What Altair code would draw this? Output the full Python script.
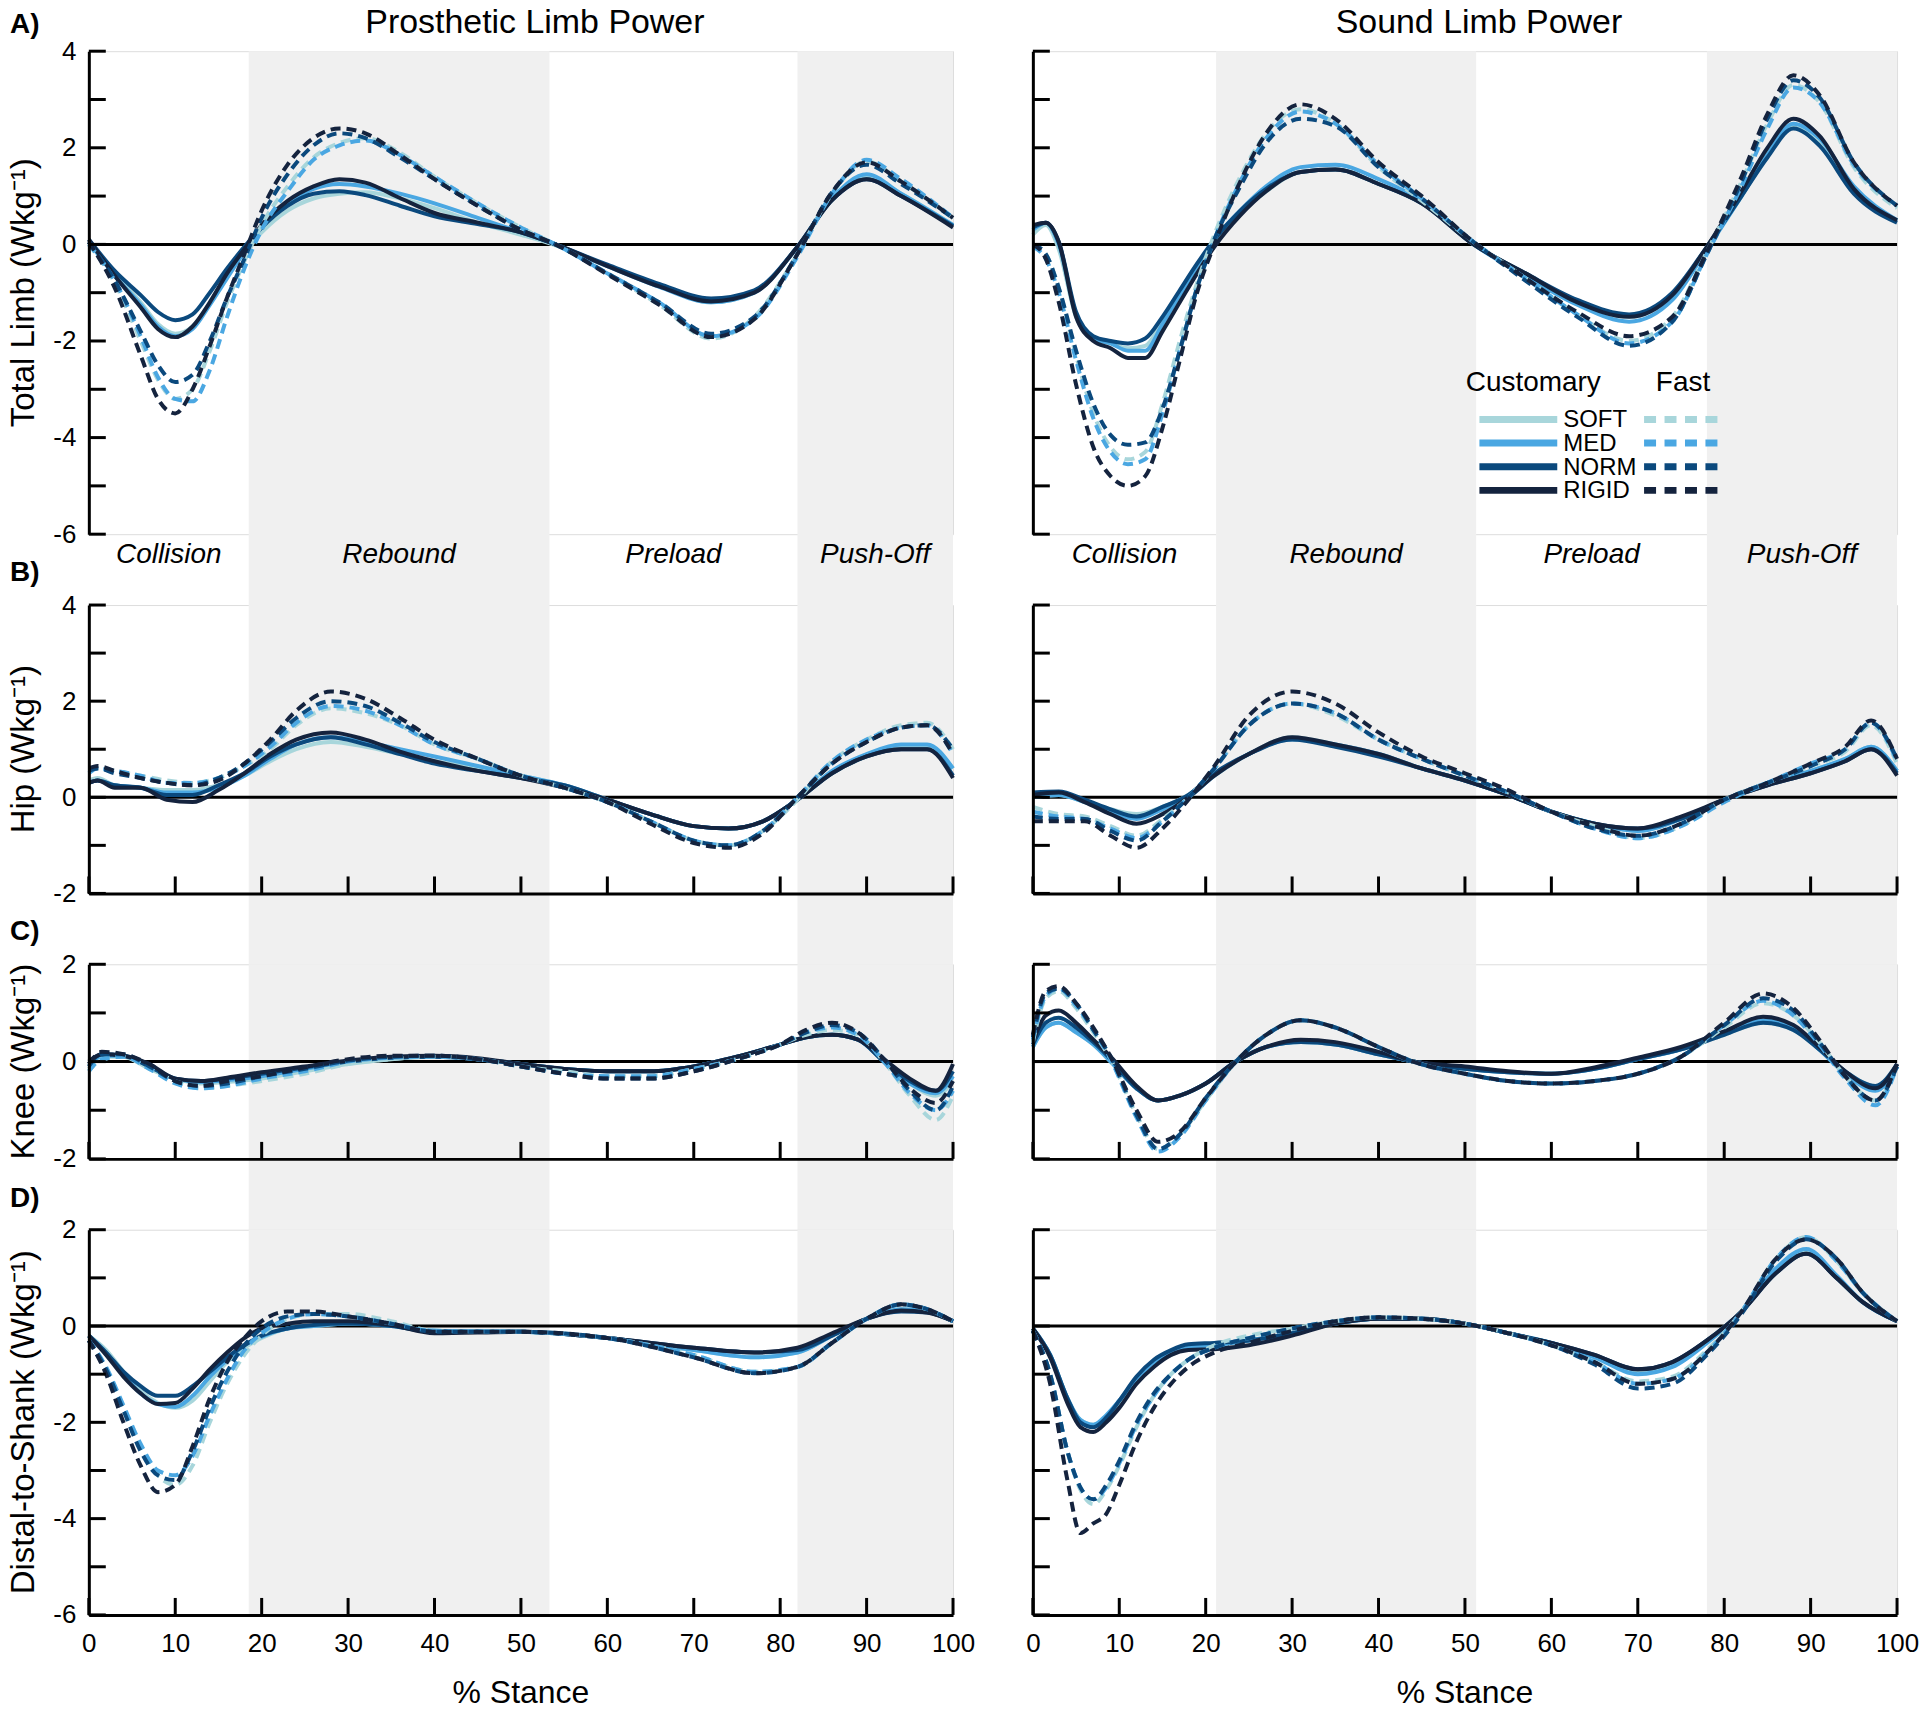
import altair as alt
import pandas as pd

FONT = "Liberation Sans, Arial, Helvetica, sans-serif"
STIFF = ["SOFT", "MED", "NORM", "RIGID"]
COLORS = ["#a8d6db", "#4aa7e2", "#0b497d", "#14233e"]
PHASE_NAMES = ["Collision", "Rebound", "Preload", "Push-Off"]
PHASES_PROS = [0, 18.5, 53.3, 82.0, 100]
PHASES_SOUND = [0, 21.2, 51.3, 78.0, 100]
X_TICKS = [0, 10, 20, 30, 40, 50, 60, 70, 80, 90, 100]

# ---------------- A) Total limb, prosthetic ----------------
AL_X = [0, 3, 6, 8, 10, 12, 14, 16, 18, 20, 23, 26, 29, 32, 36, 40, 45, 50, 54, 60, 66, 72, 77, 82, 86, 90, 94, 100]
AL_CUST = [
    [0.05, -0.6, -1.2, -1.65, -1.85, -1.7, -1.2, -0.65, -0.15, 0.25, 0.7, 0.95, 1.05, 1.08, 0.95, 0.75, 0.45, 0.2, -0.02, -0.45, -0.85, -1.2, -1.0, -0.05, 0.92, 1.4, 1.05, 0.4],
    [0.05, -0.65, -1.25, -1.7, -1.9, -1.75, -1.25, -0.7, -0.15, 0.35, 0.85, 1.15, 1.25, 1.2, 1.05, 0.85, 0.55, 0.25, 0.0, -0.45, -0.88, -1.2, -1.0, -0.05, 0.95, 1.45, 1.05, 0.4],
    [0.1, -0.55, -1.05, -1.4, -1.57, -1.45, -1.0, -0.5, -0.05, 0.35, 0.8, 1.05, 1.1, 1.02, 0.8, 0.58, 0.42, 0.25, 0.0, -0.42, -0.82, -1.12, -0.95, -0.05, 0.92, 1.35, 1.0, 0.38],
    [0.1, -0.65, -1.3, -1.75, -1.92, -1.7, -1.2, -0.6, -0.1, 0.4, 0.9, 1.2, 1.35, 1.28, 0.96, 0.65, 0.45, 0.25, 0.0, -0.45, -0.87, -1.18, -1.0, -0.05, 0.92, 1.35, 1.0, 0.35],
]
AL_FAST = [
    [0.0, -0.8, -2.0, -2.8, -3.2, -3.0, -2.2, -1.2, -0.35, 0.4, 1.2, 1.8, 2.1, 2.2, 1.9, 1.4, 0.85, 0.35, 0.0, -0.6, -1.25, -1.95, -1.5, -0.2, 1.05, 1.72, 1.3, 0.55],
    [0.0, -0.75, -1.9, -2.75, -3.2, -3.25, -2.6, -1.5, -0.5, 0.3, 1.1, 1.75, 2.05, 2.15, 1.85, 1.4, 0.85, 0.35, 0.0, -0.6, -1.2, -1.9, -1.55, -0.25, 1.05, 1.75, 1.35, 0.55],
    [0.05, -0.75, -1.8, -2.5, -2.85, -2.7, -2.0, -1.1, -0.3, 0.55, 1.45, 2.05, 2.3, 2.2, 1.8, 1.35, 0.8, 0.3, 0.0, -0.6, -1.2, -1.85, -1.5, -0.2, 1.08, 1.65, 1.25, 0.55],
    [0.05, -0.9, -2.3, -3.2, -3.5, -3.0, -2.1, -1.1, -0.2, 0.7, 1.65, 2.2, 2.4, 2.3, 1.85, 1.35, 0.8, 0.3, 0.0, -0.62, -1.25, -1.92, -1.55, -0.2, 1.08, 1.7, 1.3, 0.55],
]

# ---------------- A) Total limb, sound ----------------
AR_X = [0, 1.5, 3, 5, 7, 9, 11, 13, 15, 17, 19, 21, 24, 27, 31, 35, 40, 45, 51, 57, 63, 69, 74, 78, 82, 85, 88, 91, 95, 100]
AR_CUST = [
    [0.2, 0.4, -0.1, -1.5, -1.95, -2.05, -2.15, -2.1, -1.6, -1.0, -0.45, 0.05, 0.65, 1.1, 1.5, 1.55, 1.25, 0.85, 0.0, -0.6, -1.2, -1.5, -1.05, -0.05, 1.0, 1.9, 2.45, 2.1, 1.1, 0.5],
    [0.3, 0.45, 0.0, -1.45, -1.95, -2.05, -2.2, -2.2, -1.65, -1.05, -0.45, 0.1, 0.7, 1.2, 1.6, 1.65, 1.35, 0.9, 0.0, -0.65, -1.25, -1.6, -1.15, -0.1, 1.0, 1.85, 2.5, 2.2, 1.2, 0.5],
    [0.35, 0.45, 0.05, -1.4, -1.9, -2.0, -2.05, -1.95, -1.5, -0.95, -0.4, 0.1, 0.7, 1.15, 1.5, 1.55, 1.25, 0.85, 0.0, -0.6, -1.15, -1.45, -1.0, -0.05, 1.0, 1.8, 2.4, 2.05, 1.05, 0.45],
    [0.4, 0.45, 0.05, -1.5, -2.0, -2.15, -2.35, -2.35, -1.8, -1.2, -0.6, -0.05, 0.6, 1.1, 1.5, 1.55, 1.25, 0.85, 0.0, -0.6, -1.2, -1.5, -1.05, -0.05, 1.1, 2.0, 2.6, 2.25, 1.15, 0.5],
]
AR_FAST = [
    [0.0, -0.2, -0.9, -2.3, -3.5, -4.2, -4.45, -4.3, -3.3, -2.0, -0.8, 0.2, 1.4, 2.3, 2.8, 2.5, 1.6, 0.9, 0.05, -0.7, -1.45, -2.0, -1.5, -0.15, 1.3, 2.5, 3.3, 2.95, 1.6, 0.75],
    [-0.05, -0.3, -1.0, -2.4, -3.6, -4.3, -4.55, -4.45, -3.5, -2.2, -0.9, 0.1, 1.3, 2.2, 2.75, 2.5, 1.65, 0.95, 0.05, -0.7, -1.45, -2.05, -1.6, -0.2, 1.2, 2.4, 3.25, 2.95, 1.65, 0.8],
    [0.0, -0.2, -0.9, -2.2, -3.3, -3.95, -4.15, -4.1, -3.4, -2.2, -0.9, 0.1, 1.2, 2.1, 2.6, 2.45, 1.6, 0.95, 0.05, -0.75, -1.5, -2.1, -1.6, -0.2, 1.3, 2.6, 3.4, 3.05, 1.7, 0.8],
    [0.0, -0.3, -1.2, -2.9, -4.2, -4.8, -5.0, -4.8, -3.8, -2.4, -1.0, 0.0, 1.3, 2.3, 2.9, 2.6, 1.7, 1.0, 0.05, -0.7, -1.4, -1.9, -1.5, -0.15, 1.4, 2.7, 3.5, 3.1, 1.7, 0.8],
]

# ---------------- B) Hip, prosthetic ----------------
BL_X = [0, 1, 3, 6, 9, 12, 15, 18, 21, 24, 28, 32, 36, 40, 45, 50, 55, 60, 65, 70, 74, 78, 82, 86, 90, 94, 97, 100]
BL_CUST = [
    [0.35, 0.4, 0.25, 0.2, 0.15, 0.15, 0.25, 0.45, 0.75, 1.0, 1.15, 1.05, 0.9, 0.75, 0.6, 0.45, 0.25, -0.05, -0.35, -0.6, -0.65, -0.5, -0.05, 0.5, 0.85, 1.05, 1.05, 0.6],
    [0.3, 0.35, 0.25, 0.2, 0.1, 0.1, 0.2, 0.45, 0.8, 1.1, 1.25, 1.15, 1.0, 0.85, 0.65, 0.45, 0.25, -0.05, -0.35, -0.6, -0.65, -0.5, -0.05, 0.55, 0.9, 1.1, 1.1, 0.6],
    [0.3, 0.35, 0.25, 0.2, 0.05, 0.05, 0.25, 0.5, 0.85, 1.1, 1.25, 1.1, 0.9, 0.7, 0.55, 0.4, 0.25, -0.05, -0.35, -0.6, -0.65, -0.5, -0.05, 0.5, 0.85, 1.0, 1.0, 0.45],
    [0.3, 0.35, 0.2, 0.2, -0.05, -0.1, 0.15, 0.5, 0.9, 1.2, 1.35, 1.2, 0.95, 0.75, 0.55, 0.4, 0.2, -0.05, -0.35, -0.6, -0.65, -0.5, -0.05, 0.5, 0.85, 1.0, 1.0, 0.4],
]
BL_FAST = [
    [0.55, 0.6, 0.55, 0.45, 0.35, 0.3, 0.4, 0.65, 1.0, 1.5, 1.85, 1.75, 1.5, 1.1, 0.8, 0.45, 0.2, -0.1, -0.5, -0.9, -1.0, -0.7, -0.05, 0.75, 1.2, 1.5, 1.55, 1.0],
    [0.5, 0.6, 0.55, 0.45, 0.3, 0.3, 0.4, 0.65, 1.05, 1.55, 1.9, 1.8, 1.5, 1.1, 0.8, 0.45, 0.2, -0.1, -0.5, -0.9, -1.0, -0.7, 0.0, 0.75, 1.2, 1.45, 1.5, 0.9],
    [0.55, 0.6, 0.5, 0.4, 0.3, 0.25, 0.4, 0.7, 1.15, 1.65, 2.0, 1.9, 1.55, 1.15, 0.8, 0.45, 0.2, -0.1, -0.5, -0.9, -1.0, -0.7, 0.0, 0.7, 1.15, 1.45, 1.5, 1.0],
    [0.6, 0.65, 0.55, 0.4, 0.3, 0.25, 0.35, 0.7, 1.2, 1.8, 2.2, 2.05, 1.65, 1.2, 0.8, 0.45, 0.2, -0.1, -0.55, -0.95, -1.05, -0.75, 0.0, 0.7, 1.15, 1.45, 1.5, 0.9],
]

# ---------------- B) Hip, sound ----------------
BR_X = [0, 3, 6, 9, 12, 15, 18, 21, 25, 30, 35, 40, 45, 50, 55, 60, 65, 70, 75, 80, 85, 90, 94, 97, 100]
BR_CUST = [
    [0.0, 0.05, -0.1, -0.25, -0.35, -0.2, 0.05, 0.45, 0.9, 1.25, 1.1, 0.9, 0.6, 0.35, 0.05, -0.3, -0.55, -0.7, -0.45, -0.05, 0.3, 0.55, 0.8, 1.05, 0.55],
    [0.0, 0.05, -0.1, -0.3, -0.45, -0.25, 0.0, 0.45, 0.9, 1.2, 1.1, 0.9, 0.6, 0.35, 0.05, -0.3, -0.55, -0.7, -0.45, -0.05, 0.3, 0.55, 0.8, 1.05, 0.55],
    [0.1, 0.12, -0.05, -0.25, -0.4, -0.2, 0.05, 0.5, 0.9, 1.2, 1.05, 0.85, 0.6, 0.35, 0.05, -0.3, -0.55, -0.65, -0.45, -0.05, 0.25, 0.5, 0.75, 1.0, 0.5],
    [0.05, 0.1, -0.1, -0.35, -0.55, -0.35, 0.0, 0.45, 0.9, 1.25, 1.1, 0.9, 0.6, 0.35, 0.05, -0.3, -0.55, -0.65, -0.4, -0.05, 0.25, 0.5, 0.75, 1.0, 0.45],
]
BR_FAST = [
    [-0.2, -0.35, -0.4, -0.6, -0.8, -0.45, 0.0, 0.6, 1.5, 1.95, 1.7, 1.2, 0.8, 0.45, 0.1, -0.3, -0.6, -0.85, -0.6, -0.05, 0.3, 0.65, 0.95, 1.5, 0.7],
    [-0.3, -0.4, -0.45, -0.65, -0.85, -0.5, 0.0, 0.6, 1.5, 1.95, 1.75, 1.2, 0.8, 0.45, 0.1, -0.3, -0.65, -0.85, -0.6, -0.1, 0.3, 0.7, 1.0, 1.55, 0.75],
    [-0.4, -0.45, -0.45, -0.7, -0.9, -0.5, 0.0, 0.6, 1.5, 1.95, 1.75, 1.2, 0.8, 0.45, 0.1, -0.3, -0.65, -0.8, -0.55, -0.05, 0.3, 0.65, 1.0, 1.55, 0.8],
    [-0.5, -0.5, -0.5, -0.8, -1.05, -0.65, -0.05, 0.65, 1.7, 2.2, 1.95, 1.35, 0.85, 0.5, 0.15, -0.3, -0.6, -0.8, -0.55, -0.05, 0.3, 0.7, 1.05, 1.6, 0.8],
]

# ---------------- C) Knee, prosthetic ----------------
CL_X = [0, 1.5, 4, 7, 10, 13, 16, 20, 25, 30, 35, 40, 45, 50, 55, 60, 65, 70, 75, 80, 83, 86, 89, 92, 95, 98, 100]
CL_CUST = [
    [-0.15, 0.1, 0.1, -0.15, -0.35, -0.45, -0.42, -0.35, -0.2, -0.05, 0.05, 0.1, 0.05, -0.05, -0.15, -0.2, -0.2, -0.1, 0.1, 0.35, 0.5, 0.55, 0.45, 0.0, -0.45, -0.7, -0.4],
    [-0.1, 0.12, 0.12, -0.1, -0.35, -0.42, -0.38, -0.3, -0.15, 0.0, 0.08, 0.1, 0.05, -0.05, -0.15, -0.2, -0.2, -0.1, 0.1, 0.35, 0.5, 0.55, 0.45, 0.0, -0.45, -0.65, -0.3],
    [-0.05, 0.15, 0.12, -0.1, -0.35, -0.4, -0.35, -0.25, -0.12, 0.0, 0.08, 0.1, 0.05, -0.05, -0.15, -0.2, -0.2, -0.1, 0.1, 0.35, 0.5, 0.55, 0.45, 0.0, -0.4, -0.6, -0.2],
    [0.0, 0.15, 0.12, -0.05, -0.35, -0.4, -0.33, -0.22, -0.1, 0.02, 0.1, 0.12, 0.07, -0.05, -0.15, -0.2, -0.2, -0.1, 0.1, 0.35, 0.5, 0.55, 0.45, 0.05, -0.35, -0.6, -0.05],
]
CL_FAST = [
    [-0.2, 0.05, 0.1, -0.15, -0.4, -0.55, -0.5, -0.4, -0.25, -0.05, 0.05, 0.1, 0.05, -0.1, -0.2, -0.3, -0.3, -0.15, 0.05, 0.35, 0.55, 0.65, 0.55, 0.0, -0.7, -1.2, -0.7],
    [-0.2, 0.05, 0.1, -0.15, -0.45, -0.55, -0.5, -0.35, -0.2, 0.0, 0.08, 0.1, 0.05, -0.1, -0.25, -0.3, -0.3, -0.15, 0.05, 0.35, 0.6, 0.7, 0.55, 0.0, -0.65, -1.0, -0.6],
    [-0.1, 0.15, 0.15, -0.1, -0.4, -0.5, -0.45, -0.3, -0.15, 0.02, 0.1, 0.12, 0.05, -0.1, -0.25, -0.35, -0.35, -0.2, 0.05, 0.35, 0.6, 0.75, 0.6, 0.05, -0.6, -1.0, -0.5],
    [-0.05, 0.2, 0.15, -0.05, -0.4, -0.5, -0.4, -0.3, -0.12, 0.05, 0.12, 0.12, 0.05, -0.1, -0.25, -0.35, -0.35, -0.2, 0.05, 0.35, 0.65, 0.8, 0.6, 0.05, -0.55, -0.85, -0.4],
]

# ---------------- C) Knee, sound ----------------
CR_X = [0, 1.5, 3, 5, 7, 9, 12, 14.5, 17, 20, 23.5, 27, 31, 35, 40, 44, 50, 55, 60, 65, 70, 75, 80, 84.5, 88, 91, 94, 97.5, 100]
CR_CUST = [
    [0.3, 0.7, 0.8, 0.6, 0.35, 0.0, -0.55, -0.8, -0.7, -0.45, 0.0, 0.3, 0.4, 0.35, 0.15, 0.0, -0.15, -0.22, -0.25, -0.15, 0.05, 0.25, 0.55, 0.8, 0.65, 0.25, -0.2, -0.5, -0.1],
    [0.3, 0.7, 0.8, 0.6, 0.35, 0.0, -0.55, -0.8, -0.7, -0.45, 0.0, 0.3, 0.4, 0.35, 0.15, 0.0, -0.15, -0.22, -0.25, -0.15, 0.05, 0.25, 0.58, 0.85, 0.7, 0.25, -0.25, -0.6, -0.1],
    [0.35, 0.8, 0.9, 0.7, 0.4, 0.05, -0.55, -0.8, -0.7, -0.45, 0.0, 0.3, 0.4, 0.35, 0.15, 0.0, -0.15, -0.22, -0.25, -0.15, 0.05, 0.25, 0.55, 0.8, 0.65, 0.25, -0.2, -0.5, -0.05],
    [0.4, 0.95, 1.05, 0.8, 0.45, 0.1, -0.5, -0.8, -0.7, -0.45, 0.0, 0.3, 0.45, 0.4, 0.2, 0.0, -0.1, -0.2, -0.25, -0.12, 0.08, 0.3, 0.62, 0.92, 0.75, 0.3, -0.2, -0.55, -0.05],
]
CR_FAST = [
    [0.4, 1.3, 1.45, 1.1, 0.6, 0.05, -1.1, -1.8, -1.5, -0.8, 0.0, 0.55, 0.85, 0.7, 0.3, 0.0, -0.25, -0.4, -0.45, -0.4, -0.25, 0.1, 0.7, 1.2, 0.95, 0.4, -0.3, -0.8, -0.1],
    [0.45, 1.35, 1.5, 1.15, 0.65, 0.05, -1.15, -1.85, -1.55, -0.8, 0.0, 0.55, 0.85, 0.7, 0.3, 0.0, -0.25, -0.4, -0.45, -0.4, -0.25, 0.1, 0.75, 1.25, 0.95, 0.35, -0.35, -0.9, -0.1],
    [0.5, 1.4, 1.5, 1.2, 0.65, 0.1, -1.1, -1.8, -1.5, -0.75, 0.0, 0.55, 0.85, 0.7, 0.3, 0.0, -0.25, -0.4, -0.45, -0.4, -0.25, 0.1, 0.75, 1.3, 1.05, 0.4, -0.3, -0.8, -0.1],
    [0.55, 1.45, 1.55, 1.2, 0.7, 0.1, -1.0, -1.65, -1.45, -0.75, 0.0, 0.55, 0.85, 0.7, 0.3, 0.0, -0.25, -0.4, -0.45, -0.4, -0.25, 0.1, 0.8, 1.4, 1.1, 0.45, -0.3, -0.8, -0.05],
]

# ---------------- D) Distal-to-shank, prosthetic ----------------
DL_X = [0, 2, 4, 6, 8, 10, 12, 14, 16, 18, 20, 23, 26, 30, 35, 40, 50, 60, 70, 77, 82, 86, 90, 94, 97, 100]
DL_CUST = [
    [-0.2, -0.5, -0.95, -1.35, -1.6, -1.7, -1.55, -1.15, -0.75, -0.45, -0.25, -0.05, 0.0, 0.05, 0.0, -0.1, -0.12, -0.25, -0.5, -0.65, -0.55, -0.2, 0.15, 0.35, 0.3, 0.1],
    [-0.2, -0.55, -1.0, -1.4, -1.62, -1.68, -1.45, -1.05, -0.7, -0.4, -0.22, -0.05, 0.0, 0.05, 0.0, -0.1, -0.12, -0.25, -0.5, -0.65, -0.55, -0.2, 0.15, 0.35, 0.3, 0.1],
    [-0.2, -0.55, -0.95, -1.25, -1.45, -1.45, -1.25, -0.95, -0.65, -0.4, -0.2, -0.05, 0.02, 0.05, 0.0, -0.12, -0.12, -0.25, -0.45, -0.55, -0.5, -0.2, 0.15, 0.3, 0.28, 0.1],
    [-0.2, -0.6, -1.05, -1.4, -1.62, -1.6, -1.3, -0.9, -0.55, -0.25, -0.05, 0.05, 0.1, 0.1, 0.02, -0.15, -0.12, -0.25, -0.45, -0.55, -0.45, -0.15, 0.15, 0.32, 0.28, 0.1],
]
DL_FAST = [
    [-0.3, -0.9, -1.7, -2.5, -3.1, -3.3, -2.9, -2.0, -1.2, -0.6, -0.2, 0.15, 0.25, 0.25, 0.1, -0.1, -0.12, -0.25, -0.6, -0.95, -0.85, -0.35, 0.15, 0.45, 0.35, 0.1],
    [-0.3, -0.85, -1.65, -2.45, -3.0, -3.1, -2.7, -1.85, -1.1, -0.5, -0.15, 0.15, 0.25, 0.2, 0.05, -0.1, -0.12, -0.25, -0.6, -0.95, -0.85, -0.35, 0.15, 0.45, 0.35, 0.1],
    [-0.3, -0.9, -1.75, -2.6, -3.1, -3.2, -2.6, -1.7, -0.95, -0.4, -0.05, 0.2, 0.25, 0.2, 0.05, -0.12, -0.12, -0.25, -0.65, -0.98, -0.85, -0.35, 0.15, 0.45, 0.35, 0.1],
    [-0.3, -1.0, -2.0, -2.9, -3.45, -3.3, -2.5, -1.5, -0.75, -0.25, 0.1, 0.3, 0.3, 0.2, 0.05, -0.12, -0.12, -0.25, -0.65, -0.98, -0.85, -0.35, 0.15, 0.45, 0.35, 0.1],
]

# ---------------- D) Distal-to-shank, sound ----------------
DR_X = [0, 2, 4, 5.5, 7, 8.5, 10, 12, 14, 16, 18, 21, 25, 30, 35, 40, 45, 50, 55, 60, 65, 70, 74, 78, 82, 86, 89.5, 93, 96, 100]
DR_CUST = [
    [-0.05, -0.6, -1.5, -1.95, -2.05, -1.9, -1.6, -1.15, -0.8, -0.6, -0.45, -0.4, -0.3, -0.15, 0.05, 0.15, 0.15, 0.05, -0.15, -0.35, -0.65, -0.95, -0.8, -0.3, 0.3, 1.15, 1.55, 1.0, 0.5, 0.1],
    [-0.05, -0.6, -1.5, -1.95, -2.05, -1.85, -1.55, -1.1, -0.75, -0.55, -0.45, -0.4, -0.3, -0.15, 0.05, 0.15, 0.15, 0.05, -0.15, -0.35, -0.65, -1.0, -0.85, -0.35, 0.3, 1.2, 1.6, 1.05, 0.5, 0.1],
    [-0.05, -0.6, -1.5, -2.0, -2.1, -1.9, -1.55, -1.05, -0.7, -0.5, -0.38, -0.35, -0.3, -0.15, 0.05, 0.15, 0.15, 0.05, -0.15, -0.35, -0.6, -0.9, -0.75, -0.3, 0.3, 1.1, 1.5, 1.0, 0.5, 0.1],
    [-0.05, -0.65, -1.6, -2.1, -2.2, -2.0, -1.7, -1.2, -0.85, -0.6, -0.5, -0.48, -0.4, -0.2, 0.05, 0.15, 0.15, 0.05, -0.15, -0.35, -0.6, -0.9, -0.75, -0.3, 0.3, 1.1, 1.5, 1.0, 0.5, 0.1],
]
DR_FAST = [
    [-0.1, -1.0, -2.6, -3.4, -3.7, -3.4, -2.9, -2.1, -1.45, -1.0, -0.7, -0.4, -0.2, -0.05, 0.1, 0.18, 0.15, 0.05, -0.15, -0.4, -0.75, -1.15, -1.05, -0.5, 0.3, 1.4, 1.85, 1.35, 0.7, 0.1],
    [-0.1, -1.0, -2.6, -3.35, -3.6, -3.35, -2.85, -2.05, -1.45, -1.0, -0.7, -0.45, -0.25, -0.05, 0.1, 0.18, 0.15, 0.05, -0.15, -0.4, -0.75, -1.2, -1.1, -0.55, 0.3, 1.4, 1.85, 1.35, 0.7, 0.1],
    [-0.1, -1.0, -2.6, -3.35, -3.6, -3.3, -2.8, -2.0, -1.4, -1.0, -0.7, -0.45, -0.25, -0.05, 0.1, 0.18, 0.15, 0.05, -0.15, -0.4, -0.8, -1.3, -1.2, -0.6, 0.25, 1.35, 1.8, 1.4, 0.7, 0.1],
    [-0.1, -1.2, -3.2, -4.3, -4.1, -3.9, -3.3, -2.4, -1.7, -1.2, -0.85, -0.55, -0.35, -0.1, 0.1, 0.18, 0.15, 0.05, -0.15, -0.4, -0.75, -1.2, -1.1, -0.55, 0.3, 1.4, 1.8, 1.4, 0.7, 0.1],
]

# ---------------- layout ----------------
W = 866
GAP = 71
HSPACE = 80

ROWS = [
    dict(key="A", label="A)", ytitle="Total Limb (Wkg\u207b\u00b9)", ydom=(-6, 4), h=484, lab_dy=-18,
         L=(AL_X, AL_CUST, AL_FAST), R=(AR_X, AR_CUST, AR_FAST)),
    dict(key="B", label="B)", ytitle="Hip (Wkg\u207b\u00b9)", ydom=(-2, 4), h=289, lab_dy=-24,
         L=(BL_X, BL_CUST, BL_FAST), R=(BR_X, BR_CUST, BR_FAST)),
    dict(key="C", label="C)", ytitle="Knee (Wkg\u207b\u00b9)", ydom=(-2, 2), h=195, lab_dy=-24,
         L=(CL_X, CL_CUST, CL_FAST), R=(CR_X, CR_CUST, CR_FAST)),
    dict(key="D", label="D)", ytitle="Distal-to-Shank (Wkg\u207b\u00b9)", ydom=(-6, 2), h=386, lab_dy=-23,
         L=(DL_X, DL_CUST, DL_FAST), R=(DR_X, DR_CUST, DR_FAST)),
]


def text_layer(s, x, y, size, **kw):
    return alt.Chart(pd.DataFrame({"t": [s]})).mark_text(
        font=FONT, fontSize=size, color="black", **kw
    ).encode(text="t:N", x=alt.value(x), y=alt.value(y))


def series_df(xs, groups):
    recs = []
    for s, vals in zip(STIFF, groups):
        for x, v in zip(xs, vals):
            recs.append({"x": x, "v": v, "stiff": s})
    return pd.DataFrame(recs)


def panel(row, side):
    xs, cust, fast = row[side]
    h = row["h"]
    y0, y1 = row["ydom"]
    key = row["key"]
    phases = PHASES_PROS if side == "L" else PHASES_SOUND

    xscale = alt.Scale(domain=[0, 100], nice=False, zero=False)
    yscale = alt.Scale(domain=[y0, y1], nice=False, zero=False)
    even = [v for v in range(y0, y1 + 1) if v % 2 == 0]
    yaxis = alt.Axis(values=even, labels=(side == "L"), ticks=False, tickSize=0, grid=False,
                     domainColor="black", domainWidth=3, labelFontSize=26, labelPadding=13,
                     labelColor="black", labelFont=FONT, labelOverlap=False, title=None,
                     labelExpr="'' + datum.value", zindex=1)
    if key == "A":
        xaxis = None
    else:
        xaxis = alt.Axis(values=X_TICKS, labels=(key == "D"), ticks=False, tickSize=0, grid=False,
                         domainColor="black", domainWidth=3, labelFontSize=26, labelPadding=16,
                         labelColor="black", labelFont=FONT, labelOverlap=False, labelFlush=False,
                         title=None, zindex=1)

    def X(f):
        return alt.X(f, type="quantitative", scale=xscale, axis=xaxis)

    def Y(f):
        return alt.Y(f, type="quantitative", scale=yscale, axis=yaxis)

    ext = 0 if key == "D" else GAP
    shade = pd.DataFrame({"a": [phases[1], phases[3]], "b": [phases[2], phases[4]]})
    layers = [
        alt.Chart(shade).mark_rect(color="#f0f0f0").encode(
            x=X("a"), x2="b:Q", y=alt.value(0), y2=alt.value(h + ext)),
        alt.Chart(pd.DataFrame({"z": [0]})).mark_rule(color="black", strokeWidth=3).encode(
            y=Y("z"), x=alt.value(0), x2=alt.value(W)),
    ]
    cscale = alt.Scale(domain=STIFF, range=COLORS)
    layers.append(
        alt.Chart(series_df(xs, cust)).mark_line(strokeWidth=4, interpolate="monotone").encode(
            x=X("x"), y=Y("v"), color=alt.Color("stiff:N", scale=cscale, legend=None)))
    layers.append(
        alt.Chart(series_df(xs, fast)).mark_line(strokeWidth=4, interpolate="monotone",
                                                   strokeDash=[10, 6]).encode(
            x=X("x"), y=Y("v"), color=alt.Color("stiff:N", scale=cscale, legend=None)))
    # inward ticks
    layers.append(
        alt.Chart(pd.DataFrame({"t": list(range(y0, y1 + 1))})).mark_rule(
            color="black", strokeWidth=3).encode(y=Y("t"), x=alt.value(0), x2=alt.value(17)))
    if key != "A":
        layers.append(
            alt.Chart(pd.DataFrame({"t": X_TICKS})).mark_rule(color="black", strokeWidth=3).encode(
                x=X("t"), y=alt.value(h), y2=alt.value(h - 17)))
    if key == "A":
        mids = pd.DataFrame({"m": [(phases[i] + phases[i + 1]) / 2 for i in range(4)],
                             "name": PHASE_NAMES})
        layers.append(
            alt.Chart(mids).mark_text(font=FONT, fontSize=28, fontStyle="italic", color="black",
                                      baseline="middle", align="center").encode(
                x=X("m"), y=alt.value(h + 21), text="name:N"))
        title = "Prosthetic Limb Power" if side == "L" else "Sound Limb Power"
        layers.append(text_layer(title, W / 2 + 14, -18.5, 34, baseline="alphabetic", align="center"))
    if key == "D":
        layers.append(text_layer("% Stance", W / 2, h + 88, 32, baseline="alphabetic", align="center"))
    if side == "L":
        layers.append(text_layer(row["ytitle"], -65, h / 2, 33, angle=270, baseline="middle",
                                 align="center"))
        layers.append(text_layer(row["label"], -79, row["lab_dy"], 28, fontWeight="bold",
                                 baseline="alphabetic", align="left"))
    if key == "A" and side == "R":
        layers.append(text_layer("Customary", 501.5, 341, 28, baseline="alphabetic", align="center"))
        layers.append(text_layer("Fast", 651.5, 341, 28, baseline="alphabetic", align="center"))
        for i, (s, c) in enumerate(zip(STIFF, COLORS)):
            yy = 369 + 23.7 * i
            layers.append(alt.Chart(pd.DataFrame({"s": [s]})).mark_rule(
                color=c, strokeWidth=7).encode(
                x=alt.value(447.5), x2=alt.value(525.5), y=alt.value(yy)))
            layers.append(alt.Chart(pd.DataFrame({"s": [s]})).mark_rule(
                color=c, strokeWidth=7, strokeDash=[12, 8.5]).encode(
                x=alt.value(612.5), x2=alt.value(688), y=alt.value(yy)))
            layers.append(text_layer(s, 531.5, yy + 1, 24, baseline="middle", align="left"))
    return alt.layer(*layers).properties(width=W, height=h)


panels = []
for r in ROWS:
    panels.append(panel(r, "L"))
    panels.append(panel(r, "R"))

chart = alt.concat(*panels, columns=2, spacing=alt.RowColnumber(row=GAP, column=HSPACE),
                   bounds="flush").properties(
    padding={"left": -1, "top": -4.5, "right": 0, "bottom": 0}).configure_view(
    stroke="transparent").configure(font=FONT)

chart.save("out.html", embed_options={"renderer": "svg", "actions": False})
